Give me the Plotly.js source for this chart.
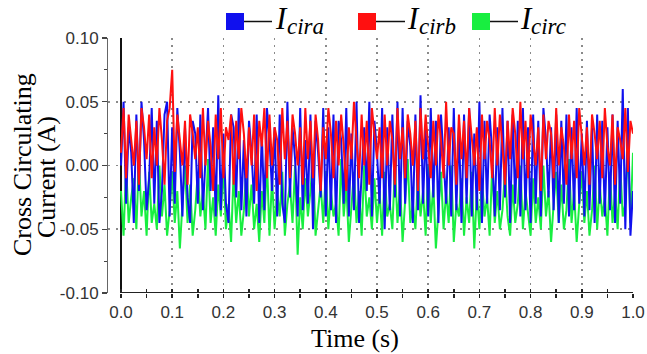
<!DOCTYPE html>
<html>
<head>
<meta charset="utf-8">
<script src="https://cdn.plot.ly/plotly-3.0.1.min.js"></script>
<style>html,body{margin:0;padding:0;background:#fff}#chart{width:647px;height:354px}</style>
</head>
<body>
<div id="chart"></div>
<script>
// ---- data ----
const dt = 0.005; // sample step, s
const icira = [
 0.00, 0.05, -0.03, 0.03, 0.01, -0.045, 0.04, -0.02, 0.05, 0.02, -0.035, -0.01, 0.045, -0.03, 0.035, -0.045, -0.02, 0.04, 0.05, -0.04,
 0.03, -0.03, 0.045, 0.01, -0.04, 0.03, -0.025, -0.045, 0.035, 0.025, -0.03, 0.04, -0.035, 0.0, 0.045, -0.02, 0.03, -0.04, 0.055, -0.035,
 0.025, -0.03, -0.045, 0.04, 0.03, -0.025, 0.045, -0.035, 0.02, -0.04, 0.035, 0.01, -0.03, 0.04, -0.045, 0.025, -0.035, 0.045, 0.02, -0.02,
 0.03, -0.04, 0.04, -0.03, -0.045, 0.05, -0.025, 0.03, 0.005, -0.04, 0.045, -0.035, 0.02, -0.03, 0.04, -0.05, 0.035, 0.01, -0.025, 0.045,
 -0.04, 0.03, -0.035, 0.04, -0.045, 0.035, 0.02, -0.03, 0.045, -0.04, 0.025, -0.035, 0.05, -0.045, -0.01, 0.03, -0.02, 0.05, -0.04, 0.035,
 0.01, -0.03, 0.045, -0.05, 0.03, -0.035, 0.04, -0.025, 0.05, -0.04, 0.045, -0.03, 0.035, 0.015, -0.045, 0.04, -0.035, 0.055, -0.03, 0.03,
 -0.04, 0.045, -0.025, 0.035, -0.045, 0.04, 0.005, -0.03, 0.03, -0.04, 0.045, -0.035, 0.03, -0.045, 0.04, -0.03, 0.045, -0.04, 0.025, -0.035,
 0.05, -0.045, 0.035, -0.03, 0.04, 0.01, -0.04, 0.03, -0.035, 0.045, -0.025, 0.035, -0.045, 0.04, -0.03, 0.035, -0.04, 0.045, -0.035, 0.03,
 -0.045, 0.04, -0.03, 0.035, -0.04, 0.045, 0.02, -0.025, 0.03, -0.035, 0.04, -0.045, 0.035, -0.03, 0.04, -0.04, 0.03, -0.035, 0.045, -0.03,
 0.025, -0.04, 0.035, -0.035, 0.03, -0.045, 0.04, -0.03, 0.035, -0.04, 0.03, -0.035, 0.04, -0.045, 0.035, -0.03, 0.06, -0.05, 0.045, -0.055,
 -0.02
];
const icirb = [
 0.01, 0.045, -0.01, 0.04, 0.02, 0.0, 0.035, -0.015, 0.045, 0.03, 0.005, 0.04, -0.01, 0.03, 0.0, 0.045, 0.02, -0.015, 0.035, 0.045,
 0.075, -0.005, 0.04, 0.02, 0.0, 0.035, -0.015, 0.04, 0.025, 0.005, 0.03, -0.01, 0.045, 0.0, 0.035, 0.015, -0.02, 0.04, 0.005, 0.045,
 -0.01, 0.03, 0.02, 0.04, -0.015, 0.035, 0.005, 0.045, 0.025, -0.01, 0.03, 0.0, 0.04, -0.02, 0.035, 0.015, 0.045, -0.01, 0.04, 0.0,
 0.03, 0.02, -0.015, 0.045, 0.005, 0.035, -0.01, 0.04, 0.025, 0.0, 0.03, -0.015, 0.045, 0.005, 0.035, -0.01, 0.04, 0.02, -0.02, 0.03,
 0.005, 0.045, 0.025, -0.01, 0.035, 0.0, 0.04, 0.015, -0.02, 0.03, 0.005, 0.05, 0.02, -0.01, 0.04, 0.0, 0.035, -0.015, 0.045, 0.025,
 0.005, 0.03, -0.01, 0.04, 0.0, 0.035, 0.02, -0.015, 0.045, 0.005, 0.03, -0.01, 0.04, 0.025, 0.0, 0.035, -0.02, 0.045, 0.005, 0.04,
 0.015, -0.01, 0.035, 0.0, 0.04, 0.02, -0.01, 0.05, 0.0, 0.03, 0.025, -0.015, 0.04, 0.005, 0.035, -0.01, 0.045, 0.02, 0.0, 0.03,
 -0.02, 0.04, 0.005, 0.035, 0.02, -0.01, 0.045, 0.0, 0.04, 0.015, -0.015, 0.035, 0.005, 0.045, 0.025, -0.01, 0.05, 0.005, 0.035, -0.01,
 0.04, 0.02, 0.0, 0.03, -0.02, 0.04, 0.005, 0.035, 0.025, -0.01, 0.045, 0.0, 0.03, 0.015, -0.015, 0.04, 0.005, 0.035, -0.01, 0.045,
 0.02, 0.0, 0.03, -0.015, 0.04, 0.025, 0.005, 0.035, -0.01, 0.045, 0.015, 0.0, 0.04, -0.015, 0.03, 0.02, 0.005, 0.045, -0.005, 0.035,
 0.025
];
const icirc = [
 -0.02, -0.055, 0.0, -0.045, -0.025, -0.01, -0.05, 0.005, -0.04, -0.02, -0.055, -0.005, -0.045, -0.03, -0.05, 0.0, -0.04, -0.015, -0.055, -0.035,
 -0.005, -0.045, -0.02, -0.065, -0.03, 0.0, -0.045, -0.015, -0.055, -0.035, -0.005, -0.04, -0.02, -0.05, 0.005, -0.045, -0.025, -0.055, -0.015, -0.04,
 0.0, -0.05, -0.03, -0.06, -0.005, -0.045, -0.02, -0.055, -0.035, 0.0, -0.04, -0.015, -0.05, -0.03, -0.06, -0.02, -0.045, 0.005, -0.055, -0.01,
 -0.05, -0.02, -0.04, -0.005, -0.055, -0.03, -0.015, -0.045, 0.0, -0.07, -0.025, -0.05, -0.01, -0.04, -0.02, 0.005, -0.055, -0.035, -0.015, -0.045,
 -0.005, -0.05, -0.02, -0.04, -0.03, -0.055, 0.005, -0.04, -0.015, -0.06, -0.035, -0.005, -0.045, -0.02, -0.055, 0.0, -0.04, -0.025, -0.05, -0.01,
 -0.045, -0.02, -0.055, -0.005, -0.04, -0.03, -0.05, 0.0, -0.045, -0.015, -0.06, -0.025, 0.005, -0.045, -0.03, -0.05, -0.01, -0.04, -0.02, -0.055,
 0.0, -0.045, -0.015, -0.065, -0.035, -0.005, -0.05, -0.02, -0.045, 0.0, -0.06, -0.03, -0.04, -0.01, -0.055, -0.025, -0.045, -0.005, -0.065, -0.02,
 -0.05, -0.01, -0.04, -0.025, -0.055, 0.0, -0.045, -0.02, -0.05, -0.035, -0.005, -0.04, -0.055, -0.015, -0.045, -0.03, 0.0, -0.05, -0.02, -0.04,
 -0.055, -0.01, -0.045, -0.025, -0.05, 0.0, -0.04, -0.02, -0.06, -0.03, -0.005, -0.045, -0.015, -0.05, -0.035, 0.005, -0.045, -0.02, -0.06, -0.03,
 -0.005, -0.045, -0.02, -0.055, -0.035, 0.0, -0.05, -0.015, -0.04, -0.025, -0.055, -0.005, -0.045, -0.02, -0.05, 0.0, -0.04, -0.03, 0.015, -0.045,
 0.01
];
const xTickVals = [0, 0.1, 0.2, 0.3, 0.4, 0.5, 0.6, 0.7, 0.8, 0.9, 1.0];
const xTickText = ['0.0', '0.1', '0.2', '0.3', '0.4', '0.5', '0.6', '0.7', '0.8', '0.9', '1.0'];
const xMinorVals = [0.05, 0.15, 0.25, 0.35, 0.45, 0.55, 0.65, 0.75, 0.85, 0.95];
const yTickVals = [0.10, 0.05, 0.00, -0.05, -0.10];
const yTickText = ['0.10', '0.05', '0.00', '-0.05', '-0.10'];
const yMinorVals = [0.075, 0.025, -0.025, -0.075];

const time = icira.map((_, i) => +(i * dt).toFixed(4));

// ---- layout geometry (pixels) ----
const W = 647, H = 354;
const M = {l: 108, r: 14, t: 38, b: 61};
const PW = W - M.l - M.r, PH = H - M.t - M.b;
const px = x => (x - M.l) / PW;
const py = y => (H - M.b - y) / PH;

const colors = {a: '#1010ee', b: '#ff1010', c: '#18ee40'};

// draw order: green (bottom), blue, red (top)
const traces = [
  {x: time, y: icirc, type: 'scatter', mode: 'lines', name: 'Icirc', line: {color: colors.c, width: 2}, xaxis: 'x', yaxis: 'y'},
  {x: time, y: icira, type: 'scatter', mode: 'lines', name: 'Icira', line: {color: colors.a, width: 2}, xaxis: 'x', yaxis: 'y'},
  {x: time, y: icirb, type: 'scatter', mode: 'lines', name: 'Icirb', line: {color: colors.b, width: 2}, xaxis: 'x2', yaxis: 'y'}
];

const xr = [-0.0254, 1.0];
const tickFont = {family: 'Liberation Sans', size: 17, color: '#333'};
const serif = 'Liberation Serif';

const shapes = [
  {type: 'line', xref: 'x', yref: 'y', x0: 0, x1: 1.0, y0: -0.1, y1: -0.1, line: {color: '#222', width: 2}},
];
const annotations = [
  {xref: 'paper', yref: 'paper', x: px(22), y: py(165), text: 'Cross Circulating', textangle: -90, showarrow: false,
   font: {family: serif, size: 26, color: '#000'}, xanchor: 'center', yanchor: 'middle'},
  {xref: 'paper', yref: 'paper', x: px(46), y: py(177), text: 'Current (A)', textangle: -90, showarrow: false,
   font: {family: serif, size: 26, color: '#000'}, xanchor: 'center', yanchor: 'middle'},
  {xref: 'paper', yref: 'paper', x: px(355), y: py(338), text: 'Time (s)', showarrow: false,
   font: {family: serif, size: 26, color: '#000'}, xanchor: 'center', yanchor: 'middle'}
];

const legendItems = [
  {sq: 226, lineEnd: 272, I: 273, sub: 285, color: colors.a, label: 'cira'},
  {sq: 358, lineEnd: 405, I: 405, sub: 417, color: colors.b, label: 'cirb'},
  {sq: 472, lineEnd: 518, I: 518, sub: 529, color: colors.c, label: 'circ'}
];
legendItems.forEach(it => {
  shapes.push({type: 'rect', xref: 'paper', yref: 'paper', x0: px(it.sq), x1: px(it.sq + 18), y0: py(30), y1: py(13),
    fillcolor: it.color, line: {color: it.color, width: 0}});
  shapes.push({type: 'line', xref: 'paper', yref: 'paper', x0: px(it.sq + 18), x1: px(it.lineEnd), y0: py(21.5), y1: py(21.5),
    line: {color: '#111', width: 1.5}});
  annotations.push({xref: 'paper', yref: 'paper', x: px(it.I), y: py(18), text: '<i>I</i>', showarrow: false,
    font: {family: serif, size: 31, color: '#000'}, xanchor: 'left', yanchor: 'middle'});
  annotations.push({xref: 'paper', yref: 'paper', x: px(it.sub), y: py(27), text: '<i>' + it.label + '</i>', showarrow: false,
    font: {family: serif, size: 23, color: '#000'}, xanchor: 'left', yanchor: 'middle'});
});

const layout = {
  width: W, height: H,
  margin: M,
  paper_bgcolor: '#fff', plot_bgcolor: '#fff',
  showlegend: false,
  xaxis: {
    range: xr, showline: false,
    zeroline: true, zerolinecolor: '#111', zerolinewidth: 2.5,
    tickvals: xTickVals, ticktext: xTickText, tickfont: tickFont,
    ticks: 'outside', ticklen: 4, tickwidth: 1.5, tickcolor: '#222',
    minor: {tickvals: xMinorVals, ticks: 'outside', ticklen: 4, tickwidth: 1.5, tickcolor: '#222', showgrid: false},
    showgrid: true, gridcolor: '#8a8a8a', gridwidth: 1.6, griddash: '2px,5px'
  },
  xaxis2: {
    range: xr, overlaying: 'x', anchor: 'y', side: 'bottom',
    showline: false, zeroline: false, showgrid: false, showticklabels: false,
    tickvals: xTickVals, ticks: 'inside', ticklen: 4, tickwidth: 1.5, tickcolor: '#222',
    minor: {tickvals: xMinorVals, ticks: 'inside', ticklen: 4, tickwidth: 1.5, tickcolor: '#222', showgrid: false}
  },
  yaxis: {
    range: [-0.1, 0.1], showline: true, linecolor: '#666', linewidth: 1,
    zeroline: false,
    tickvals: yTickVals, ticktext: yTickText, tickfont: tickFont,
    ticks: 'outside', ticklen: 5, tickwidth: 1.2, tickcolor: '#444',
    minor: {tickvals: yMinorVals, ticks: 'outside', ticklen: 3, tickwidth: 1.2, tickcolor: '#444', showgrid: false},
    showgrid: true, gridcolor: '#8a8a8a', gridwidth: 1.6, griddash: '2px,6px'
  },
  shapes: shapes,
  annotations: annotations
};

Plotly.newPlot('chart', traces, layout, {staticPlot: true, displayModeBar: false});
</script>
</body>
</html>
